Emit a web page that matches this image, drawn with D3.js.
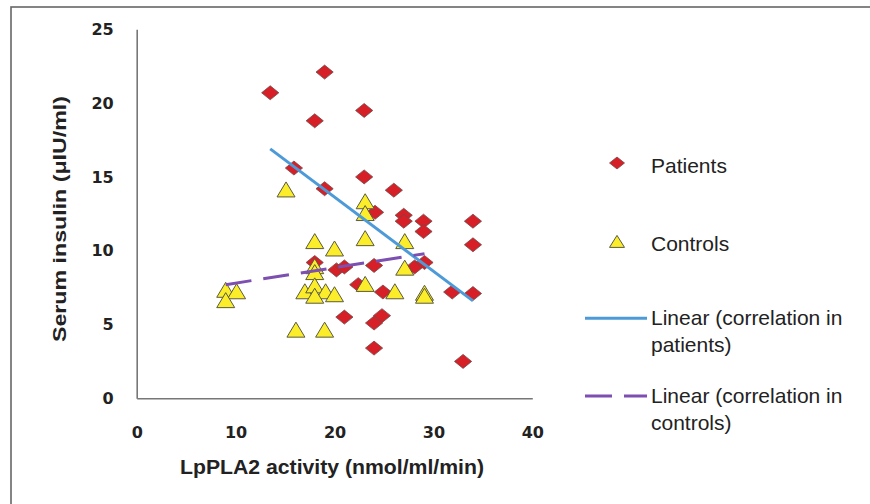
<!DOCTYPE html>
<html>
<head>
<meta charset="utf-8">
<script src="https://cdn.jsdelivr.net/npm/d3@7"></script>
<style>
  html, body { margin: 0; padding: 0; background: #fff; }
  svg { display: block; }
</style>
</head>
<body>
<svg id="chart" width="870" height="504"></svg>
<script>
// ---- data ----
const patientsX = [13.5, 19.0, 18.0, 23.0, 15.9, 19.0, 23.0, 26.0, 24.1, 27.0, 27.0, 29.0, 29.0, 34.0, 34.0,
                   18.0, 20.2, 21.0, 24.0, 28.1, 29.1, 22.4, 24.9, 31.9, 34.0, 21.0, 24.8, 24.0, 24.0, 33.0];
const patientsY = [20.7, 22.1, 18.8, 19.5, 15.6, 14.2, 15.0, 14.1, 12.6, 12.4, 12.0, 12.0, 11.3, 12.0, 10.4,
                   9.2, 8.7, 8.9, 9.0, 8.9, 9.2, 7.7, 7.2, 7.2, 7.1, 5.5, 5.6, 5.1, 3.4, 2.5];
const controlsX = [15.1, 23.1, 23.1, 23.1, 27.1, 18.0, 20.0, 18.0, 18.0, 27.1, 9.0, 10.1,
                   9.0, 17.0, 18.0, 19.1, 18.0, 20.0, 23.1, 26.1, 29.1, 29.1, 16.1, 19.0];
const controlsY = [14.1, 13.3, 12.5, 10.8, 10.6, 10.6, 10.1, 8.9, 8.5, 8.8, 7.3, 7.2,
                   6.6, 7.2, 7.6, 7.2, 6.9, 7.0, 7.7, 7.2, 7.1, 6.9, 4.6, 4.6];
const trendPatientsX = [13.5, 34.0];
const trendPatientsY = [16.9, 6.6];
const trendControlsX = [9.0, 29.1];
const trendControlsY = [7.7, 9.8];
const xTicks = [0, 10, 20, 30, 40];
const yTicks = [0, 5, 10, 15, 20, 25];
const xTitle = "LpPLA2 activity (nmol/ml/min)";
const yTitle = "Serum insulin (μIU/ml)";
const legendLabels = ["Patients", "Controls", ["Linear (correlation in", "patients)"], ["Linear (correlation in", "controls)"]];

// ---- styles ----
const RED = "#d61f26", YELLOW = "#fced2a", BLUE = "#4d9ad8", PURPLE = "#7c4fb0";

const svg = d3.select("#chart");

// frame
svg.append("rect").attr("x", 11).attr("y", 7).attr("width", 900).attr("height", 600)
  .attr("fill", "none").attr("stroke", "#666").attr("stroke-width", 1.6);

const x = d3.scaleLinear().domain([0, 40]).range([136.7, 532.3]);
const y = d3.scaleLinear().domain([0, 25]).range([398.3, 29.3]);

const tickFont = "'DejaVu Sans', sans-serif";

// axes
const gx = svg.append("g").attr("transform", `translate(0,${y(0)})`)
  .call(d3.axisBottom(x).tickValues(xTicks).tickFormat(d3.format("d")).tickSize(0).tickPadding(28));
const gy = svg.append("g").attr("transform", `translate(${x(0)},0)`)
  .call(d3.axisLeft(y).tickValues(yTicks).tickFormat(d3.format("d")).tickSize(0).tickPadding(23));
[gx, gy].forEach(g => {
  g.select(".domain").attr("stroke", "#777").attr("stroke-width", 1.6);
  g.selectAll("text").attr("font-family", tickFont).attr("font-weight", "bold")
    .attr("font-size", 16).attr("fill", "#222");
});

// axis titles
svg.append("text").attr("x", 332).attr("y", 474).attr("text-anchor", "middle")
  .attr("font-family", "'Liberation Sans', Arial, sans-serif").attr("font-weight", "bold")
  .attr("font-size", 20).attr("fill", "#222")
  .attr("textLength", 304).attr("lengthAdjust", "spacingAndGlyphs").text(xTitle);
svg.append("text").attr("transform", "translate(66,219) rotate(-90)").attr("text-anchor", "middle")
  .attr("font-family", "'Liberation Sans', Arial, sans-serif").attr("font-weight", "bold")
  .attr("font-size", 19).attr("fill", "#222")
  .attr("textLength", 246).attr("lengthAdjust", "spacingAndGlyphs").text(yTitle);

// custom symbols
const diamond = { draw(ctx, size) { const w = 8.6, h = 7; ctx.moveTo(0, -h); ctx.lineTo(w, 0); ctx.lineTo(0, h); ctx.lineTo(-w, 0); ctx.closePath(); } };
const triangle = { draw(ctx, size) { const w = 9, h = 15; ctx.moveTo(0, -h * 0.55); ctx.lineTo(w, h * 0.45); ctx.lineTo(-w, h * 0.45); ctx.closePath(); } };
const diamondSmall = { draw(ctx) { const w = 7.5, h = 6; ctx.moveTo(0, -h); ctx.lineTo(w, 0); ctx.lineTo(0, h); ctx.lineTo(-w, 0); ctx.closePath(); } };
const triangleSmall = { draw(ctx) { const w = 7.5, h = 12; ctx.moveTo(0, -h * 0.55); ctx.lineTo(w, h * 0.45); ctx.lineTo(-w, h * 0.45); ctx.closePath(); } };

// patients
svg.append("g").selectAll("path").data(d3.range(patientsX.length)).join("path")
  .attr("transform", i => `translate(${x(patientsX[i])},${y(patientsY[i])})`)
  .attr("d", d3.symbol().type(diamond))
  .attr("fill", RED).attr("stroke", "#6e4a4a").attr("stroke-width", 0.8);

// controls
svg.append("g").selectAll("path").data(d3.range(controlsX.length)).join("path")
  .attr("transform", i => `translate(${x(controlsX[i])},${y(controlsY[i])})`)
  .attr("d", d3.symbol().type(triangle))
  .attr("fill", YELLOW).attr("stroke", "#5a5a40").attr("stroke-width", 1);

// trend lines
const line = d3.line().x(d => x(d[0])).y(d => y(d[1]));
svg.append("path").datum(d3.zip(trendPatientsX, trendPatientsY)).attr("d", line)
  .attr("fill", "none").attr("stroke", BLUE).attr("stroke-width", 3);
svg.append("path").datum(d3.zip(trendControlsX, trendControlsY)).attr("d", line)
  .attr("fill", "none").attr("stroke", PURPLE).attr("stroke-width", 3).attr("stroke-dasharray", "26,12");

// legend
const lg = svg.append("g");
const lf = "'Liberation Sans', Arial, sans-serif";
lg.append("path").attr("transform", "translate(617,163)").attr("d", d3.symbol().type(diamondSmall))
  .attr("fill", RED).attr("stroke", "#6e4a4a").attr("stroke-width", 0.8);
lg.append("path").attr("transform", "translate(617,242)").attr("d", d3.symbol().type(triangleSmall))
  .attr("fill", YELLOW).attr("stroke", "#5a5a40").attr("stroke-width", 1);
lg.append("line").attr("x1", 585).attr("x2", 647).attr("y1", 318.3).attr("y2", 318.3)
  .attr("stroke", BLUE).attr("stroke-width", 3);
lg.append("line").attr("x1", 585).attr("x2", 647).attr("y1", 396).attr("y2", 396)
  .attr("stroke", PURPLE).attr("stroke-width", 3).attr("stroke-dasharray", "27,12");
const textRows = [
  [legendLabels[0], 173],
  [legendLabels[1], 251],
  [legendLabels[2][0], 325], [legendLabels[2][1], 352],
  [legendLabels[3][0], 403], [legendLabels[3][1], 430]
];
textRows.forEach(([t, yy]) => {
  lg.append("text").attr("x", 651).attr("y", yy).attr("font-family", lf)
    .attr("font-size", 21).attr("fill", "#222").text(t);
});
</script>
</body>
</html>
